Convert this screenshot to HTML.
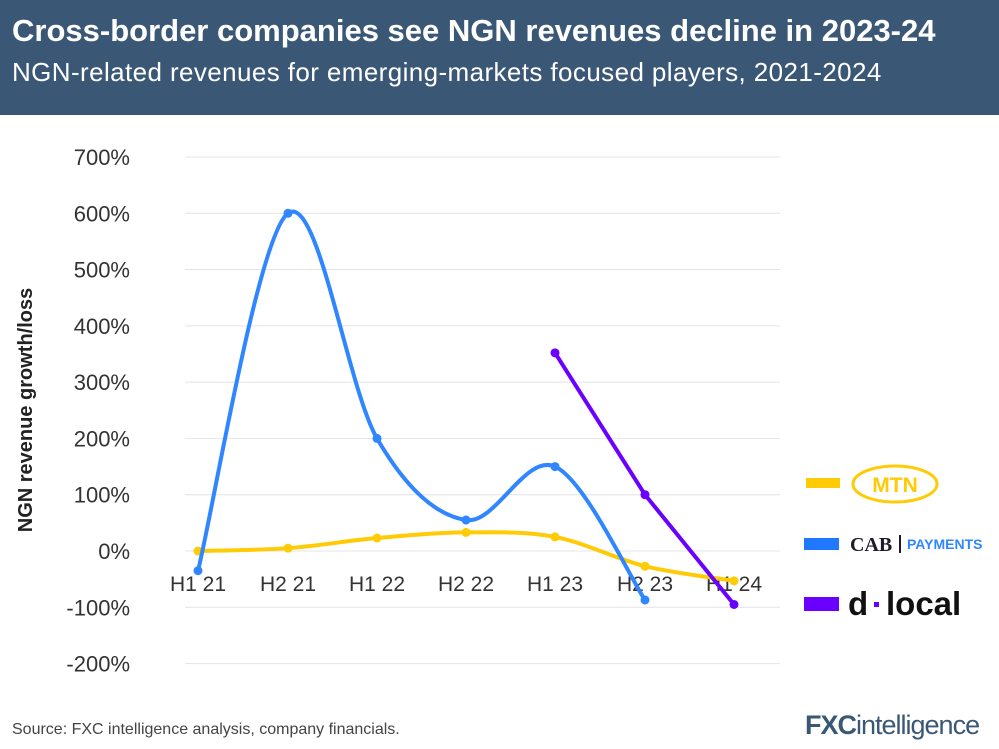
<!DOCTYPE html>
<html><head><meta charset="utf-8"><style>
body{margin:0;width:999px;height:749px;background:#fff;font-family:"Liberation Sans",sans-serif;overflow:hidden;position:relative}
.hdr{position:absolute;left:0;top:0;width:999px;height:115px;background:#3a5876}
.t{position:absolute;left:12px;top:13px;color:#fff;font-weight:bold;font-size:31px;white-space:nowrap}
.s{position:absolute;left:12px;top:57px;color:#fff;font-size:26px;letter-spacing:0.4px;white-space:nowrap}
</style></head><body>
<div class="hdr"></div>
<div class="t">Cross-border companies see NGN revenues decline in 2023-24</div>
<div class="s">NGN-related revenues for emerging-markets focused players, 2021-2024</div>
<svg width="999" height="749" style="position:absolute;left:0;top:0">
<g id="grid" stroke="#e4e4e4" stroke-width="1"></g>
<g id="yl" font-size="22" fill="#333" text-anchor="end"></g>
<text transform="translate(32,410) rotate(-90)" text-anchor="middle" font-size="20" fill="#222" font-weight="bold">NGN revenue growth/loss</text>
<g id="xl" font-size="21" fill="#333" text-anchor="middle"></g>
<g id="lines" fill="none" stroke-width="4"></g>
<rect x="806" y="478" width="34" height="10" fill="#ffcb05"/>
<ellipse cx="895" cy="484" rx="42" ry="18" fill="none" stroke="#ffcb05" stroke-width="3"/>
<text x="895" y="492" text-anchor="middle" font-size="21" font-weight="bold" fill="#ffcb05">MTN</text>
<rect x="804" y="538" width="35" height="12" fill="#1f78ff"/>
<text x="850" y="551" font-size="20" font-weight="bold" fill="#1b1b2e" font-family="Liberation Serif,serif">CAB</text>
<rect x="899" y="535" width="2" height="18" fill="#1b1b2e"/>
<text x="907" y="549" font-size="14" fill="#2f86ff" font-weight="bold">PAYMENTS</text>
<rect x="804" y="597" width="35" height="14" fill="#6a00ff"/>
<text x="848" y="615" font-size="33" font-weight="bold" fill="#111">d</text>
<rect x="874" y="602" width="5" height="5" fill="#6a00ff"/>
<text x="886" y="615" font-size="33" font-weight="bold" fill="#111">local</text>
<text x="12" y="734" font-size="16" fill="#444">Source: FXC intelligence analysis, company financials.</text>
<text x="805" y="734" font-size="27" font-weight="bold" fill="#3a5876" letter-spacing="-1">FXC<tspan font-weight="normal">intelligence</tspan></text>
</svg>
<script>
var ns="http://www.w3.org/2000/svg";
function Y(v){return 551-v*0.5629;}
var g=document.getElementById("grid"),yl=document.getElementById("yl"),xl=document.getElementById("xl");
for(var v=-200;v<=700;v+=100){var l=document.createElementNS(ns,"line");l.setAttribute("x1",185);l.setAttribute("x2",780);l.setAttribute("y1",Y(v));l.setAttribute("y2",Y(v));g.appendChild(l);
var t=document.createElementNS(ns,"text");t.setAttribute("x",130);t.setAttribute("y",Y(v)+8);t.textContent=v+"%";if(v<0)t.textContent="-"+(-v)+"%";yl.appendChild(t);}
var X=[198,288,377,466,555,645,734],L=["H1 21","H2 21","H1 22","H2 22","H1 23","H2 23","H1 24"];
L.forEach(function(s,i){var t=document.createElementNS(ns,"text");t.setAttribute("x",X[i]);t.setAttribute("y",591);t.textContent=s;xl.appendChild(t);});
var lines=document.getElementById("lines");
function draw(idx,vals,col,smooth){var p=idx.map(function(i,k){return[X[i],Y(vals[k])];});
var d="M"+p[0][0]+","+p[0][1];
for(var i=0;i<p.length-1;i++){var p0=p[i-1]||p[i],p1=p[i],p2=p[i+1],p3=p[i+2]||p2;var s=smooth?6:1e9;
d+=" C"+(p1[0]+(p2[0]-p0[0])/s)+","+(p1[1]+(p2[1]-p0[1])/s)+" "+(p2[0]-(p3[0]-p1[0])/s)+","+(p2[1]-(p3[1]-p1[1])/s)+" "+p2[0]+","+p2[1];}
var e=document.createElementNS(ns,"path");e.setAttribute("d",d);e.setAttribute("stroke",col);lines.appendChild(e);
p.forEach(function(q){var c=document.createElementNS(ns,"circle");c.setAttribute("cx",q[0]);c.setAttribute("cy",q[1]);c.setAttribute("r",4.5);c.setAttribute("fill",col);c.setAttribute("stroke","none");lines.appendChild(c);});}
draw([0,1,2,3,4,5,6],[0,5,23,33,25,-27,-53],"#ffcb05",true);
draw([0,1,2,3,4,5],[-35,600,200,55,150,-87],"#2f86ff",true);
draw([4,5,6],[352,100,-95],"#6a00ff",false);
</script>
</body></html>
